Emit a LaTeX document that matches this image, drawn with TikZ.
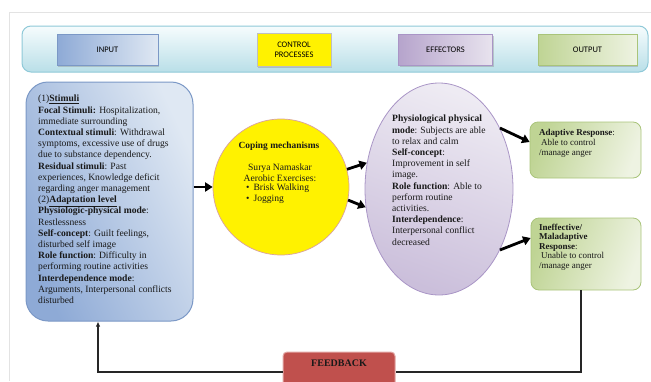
\documentclass[tikz,border=0pt]{standalone}
\usepackage{fontspec}
\setmainfont{Liberation Serif}
\newfontfamily\calfont{Carlito}
\usetikzlibrary{arrows.meta,shadows,shapes.geometric,calc}
\definecolor{frameC}{HTML}{E3E3E3}
\definecolor{banTop}{HTML}{F6FCFD}
\definecolor{banBot}{HTML}{B9DFE8}
\definecolor{banDraw}{HTML}{8FC9D8}
\definecolor{bluD}{HTML}{8EAAD6}
\definecolor{bluL}{HTML}{DFE8F3}
\definecolor{bluDraw}{HTML}{7B98C6}
\definecolor{purD}{HTML}{B6A4CC}
\definecolor{purL}{HTML}{E8E3EE}
\definecolor{purE}{HTML}{CBBFDB}
\definecolor{purT}{HTML}{EEEBF3}
\definecolor{purDraw}{HTML}{A995C6}
\definecolor{grnD}{HTML}{BFD494}
\definecolor{grnL}{HTML}{EEF3E2}
\definecolor{grnDraw}{HTML}{A9C47A}
\definecolor{ylwDraw}{HTML}{D9A0A0}
\definecolor{fbRed}{HTML}{C0504D}
\definecolor{fbDraw}{HTML}{E2A7A5}
\tikzset{
  bantag/.style={draw, minimum height=31pt, align=center,
    font=\calfont\fontsize{8.5}{9.5}\selectfont, line width=0.8pt,
    drop shadow={shadow xshift=1.2pt, shadow yshift=-1.2pt, opacity=0.35}},
  body/.style={inner sep=0pt, align=left, text=black!90,
    font=\fontsize{9.6}{11.2}\selectfont},
  smallbody/.style={inner sep=0pt, align=left, text=black!90,
    font=\fontsize{9}{9.6}\selectfont},
  greenbox/.style={draw=grnDraw, line width=0.8pt, rounded corners=8pt,
    left color=grnD, right color=grnL, shading angle=70},
  bigarr/.style={line width=2.8pt, -{Triangle[length=7.5pt,width=9pt]}},
  fbline/.style={line width=1.4pt, draw=black!85}
}
\begin{document}
\begin{tikzpicture}[x=1pt,y=-1pt]
\useasboundingbox (0,0) rectangle (651,381);
\clip (0,0) rectangle (651,381);
% faint outer frame
\draw[frameC, line width=0.6pt] (9,381) -- (9,12) -- (651,12);
% banner
\node[draw=banDraw, line width=1pt, rounded corners=9pt, top color=banTop, bottom color=banBot,
  minimum width=626pt, minimum height=46pt] (ban) at (335,49) {};
\node[bantag, draw=bluDraw, left color=bluD, right color=bluL, minimum width=101pt] (input) at (107.5,50) {INPUT};
\node[bantag, draw=black!25, fill=yellow, minimum width=74pt, minimum height=33pt] (ctrl) at (294,50) {CONTROL\\PROCESSES};
\node[bantag, draw=purDraw, left color=purD, right color=purL, minimum width=94pt] (effl) at (445.5,50) {EFFECTORS};
\node[bantag, draw=grnDraw, left color=grnD, right color=grnL, minimum width=99pt] (outl) at (587.5,50) {OUTPUT};
% left input box
\node[draw=bluDraw, line width=1pt, rounded corners=22pt, left color=bluD, right color=bluL,
  shading angle=115, minimum width=167pt, minimum height=239pt] (lbox) at (109.5,201.5) {};
\node[body, anchor=north west] (ltxt) at (38,95) {%
(1)\textbf{\underline{Stimuli}}\\
\textbf{Focal Stimuli:} Hospitalization,\\
immediate surrounding\\
\textbf{Contextual stimuli}: Withdrawal\\
symptoms, excessive use of drugs\\
due to substance dependency.\\
\textbf{Residual stimuli}: Past\\
experiences, Knowledge deficit\\
regarding anger management\\
(2)\textbf{\underline{Adaptation level}}\\
\textbf{Physiologic-physical mode}:\\
Restlessness\\
\textbf{Self-concept}: Guilt feelings,\\
disturbed self image\\
\textbf{Role function}:\hspace{3pt}Difficulty in\\
performing routine activities\\
\textbf{Interdependence mode}:\\
Arguments, Interpersonal conflicts\\
disturbed};
% coping circle
\node[circle, draw=ylwDraw, line width=0.7pt, fill=yellow, minimum size=136pt, inner sep=0pt] (cope) at (281,187) {};
\node[body, align=center, font=\bfseries\fontsize{9.4}{10.8}\selectfont] (cmt) at (279,146) {Coping mechanisms};
\node[body, align=center, font=\fontsize{9.6}{10.8}\selectfont] (cst) at (280,172.5) {Surya Namaskar\\Aerobic Exercises:};
\node[body, anchor=north west, font=\fontsize{9.6}{10.8}\selectfont] (cbl) at (246,184) {\textbullet\hspace{4pt}Brisk Walking\\\textbullet\hspace{4pt}Jogging};
% effectors ellipse
\node[ellipse, draw=purDraw, line width=0.8pt, top color=purT, bottom color=purE, shading angle=-20,
  minimum width=148pt, minimum height=212pt, inner sep=0pt] (eff) at (439,189) {};
\node[body, anchor=north west] (etxt) at (392,115) {%
\textbf{Physiological physical}\\
\textbf{mode}: Subjects are able\\
to relax and calm\\
\textbf{Self-concept}:\\
Improvement in self\\
image.\\
\textbf{Role function}: Able to\\
perform routine\\
activities.\\
\textbf{Interdependence}:\\
Interpersonal conflict\\
decreased};
% output boxes
\node[greenbox, minimum width=111pt, minimum height=56pt] (adapt) at (585.5,150) {};
\node[smallbody, anchor=north west] (atxt) at (539,129.5) {%
\textbf{Adaptive Response}:\\
\hspace*{2pt}Able to control\\
/manage anger};
\node[greenbox, minimum width=110pt, minimum height=72pt] (ineff) at (586,254) {};
\node[smallbody, anchor=north west] (itxt) at (539,223.5) {%
\textbf{Ineffective/}\\
\textbf{Maladaptive}\\
\textbf{Response}:\\
\hspace*{2pt}Unable to control\\
/manage anger};
% feedback
\node[draw=fbDraw, line width=1pt, fill=fbRed, rounded corners=4pt, minimum width=112pt, minimum height=40pt] (fb) at (339,372) {};
\node[font=\bfseries\fontsize{10}{11}\selectfont, text=black!90] (fbt) at (339,363) {FEEDBACK};
% arrows
\draw[bigarr] (lbox.east |- cope.west) -- (cope.west);
\draw[bigarr] (cope.15) -- (eff.160);
\draw[bigarr] (cope.-11) -- (eff.194);
\draw[bigarr] (eff.45) -- ($(adapt.west)+(0,-8)$);
\draw[bigarr] (eff.-45) -- ($(ineff.west)+(0,-16)$);
% feedback loop
\coordinate (c1) at (581,372);
\coordinate (c2) at (98,372);
\draw[fbline] (ineff.south -| c1) -- (c1) -- (fb.east);
\draw[fbline, -{Latex[length=5pt,width=4.5pt]}] (fb.west) -- (c2) -- (lbox.south -| c2);
\end{tikzpicture}
\end{document}
